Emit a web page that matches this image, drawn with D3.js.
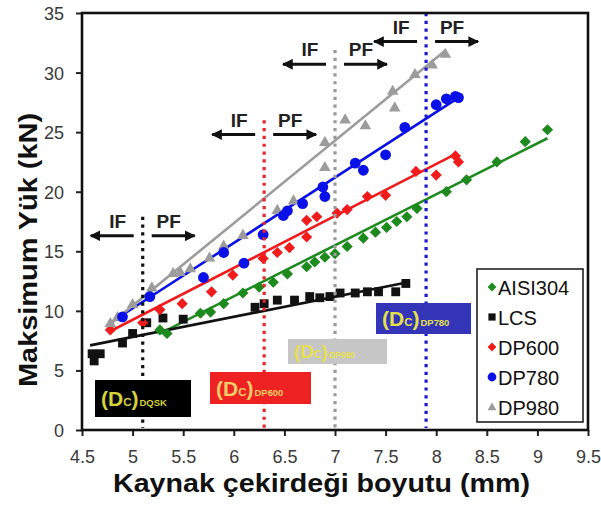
<!DOCTYPE html>
<html>
<head>
<meta charset="utf-8">
<script src="https://cdn.jsdelivr.net/npm/d3@7"></script>
<style>
  html, body { margin: 0; padding: 0; background: #fff; }
  svg { display: block; font-family: "Liberation Sans", Arial, sans-serif; }
</style>
</head>
<body>
<svg id="chart" width="601" height="509"></svg>
<script>
// Axis ticks
const xTicks = [4.5, 5, 5.5, 6, 6.5, 7, 7.5, 8, 8.5, 9, 9.5];
const xTickLabels = ["4.5", "5", "5.5", "6", "6.5", "7", "7.5", "8", "8.5", "9", "9.5"];
const yTicks = [0, 5, 10, 15, 20, 25, 30, 35];
const yTickLabels = ["0", "5", "10", "15", "20", "25", "30", "35"];

// Series: weld nugget size (mm) vs. maximum load (kN)
const seriesNames = ["AISI304", "LCS", "DP600", "DP780", "DP980"];

const aisiX = [5.27, 5.34, 5.67, 5.77, 5.9, 6.09, 6.25, 6.39, 6.53, 6.72, 6.8, 6.9, 7.0, 7.12, 7.28, 7.4, 7.51, 7.61, 7.71, 7.81, 8.1, 8.3, 8.6, 8.88, 9.1];
const aisiY = [8.4, 8.1, 9.8, 9.9, 10.6, 11.5, 12.0, 12.4, 13.1, 13.7, 14.1, 14.5, 14.8, 15.4, 16.1, 16.6, 17.0, 17.5, 17.9, 18.6, 20.0, 21.0, 22.5, 24.2, 25.2];

const lcsX = [4.6, 4.62, 4.68, 4.9, 5.0, 5.14, 5.3, 5.5, 6.21, 6.3, 6.43, 6.6, 6.75, 6.85, 6.95, 7.05, 7.2, 7.32, 7.43, 7.6, 7.7];
const lcsY = [6.4, 5.8, 6.4, 7.3, 8.1, 9.0, 9.4, 9.3, 10.3, 10.6, 10.9, 10.9, 11.2, 11.1, 11.2, 11.5, 11.5, 11.6, 11.6, 11.6, 12.3];

const dp600X = [4.78, 5.1, 5.27, 5.49, 5.78, 5.99, 6.29, 6.43, 6.55, 6.72, 6.72, 6.82, 7.02, 7.12, 7.32, 7.5, 7.8, 8.0, 8.19, 8.22];
const dp600Y = [8.4, 9.0, 10.1, 10.6, 11.6, 13.0, 14.4, 14.9, 15.3, 16.2, 17.6, 17.9, 18.2, 18.5, 19.6, 19.7, 21.7, 21.4, 23.0, 22.5];

const dp780X = [4.9, 5.17, 5.7, 5.9, 6.1, 6.29, 6.49, 6.53, 6.68, 6.88, 6.9, 7.2, 7.28, 7.5, 7.69, 8.0, 8.1, 8.19, 8.22];
const dp780Y = [9.5, 11.2, 12.8, 14.9, 14.0, 16.4, 18.0, 18.4, 19.0, 20.4, 19.6, 22.4, 21.8, 23.1, 25.4, 27.3, 27.8, 28.0, 27.9];

const dp980X = [4.78, 4.85, 5.0, 5.19, 5.4, 5.47, 5.57, 5.76, 5.9, 6.09, 6.43, 6.59, 6.9, 6.9, 7.1, 7.3, 7.59, 7.57, 7.79, 7.96, 8.09];
const dp980Y = [9.0, 9.5, 10.6, 12.0, 13.2, 13.3, 13.6, 14.5, 15.5, 16.4, 18.5, 19.3, 22.1, 24.2, 26.1, 25.6, 27.1, 28.5, 29.9, 30.7, 31.6];

// Linear trend lines (slope, intercept, x range), one per series
const fitSlope = [4.28, 1.688, 4.36, 5.49, 6.93];
const fitIntercept = [-14.46, -0.63, -12.55, -17.24, -24.22];
const fitFrom = [5.27, 4.58, 4.76, 4.78, 4.75];
const fitTo = [9.1, 7.72, 8.2, 8.24, 8.1];

// Critical nugget sizes (IF / PF transition)
const dcLabels = ["DQSK", "DP600", "DP980", "DP780"];
const dcSize = [5.1, 6.3, 7.0, 7.9];
const dcTop = [17.9, 26.0, 31.9, 35];
const dcArrowLevel = [16.3, 24.8, 30.7, 32.6];

const seriesX = [aisiX, lcsX, dp600X, dp780X, dp980X];
const seriesY = [aisiY, lcsY, dp600Y, dp780Y, dp980Y];
const seriesColor = ["#1c8a1c", "#111111", "#f01c1c", "#0a10e8", "#9c9c9c"];
const seriesShape = ["diamond", "square", "diamond", "circle", "triangle"];
const seriesSize = [5.6, 5.4, 5.6, 5.4, 5.8];

const dcColor = ["#111111", "#e8262a", "#9a9a9a", "#1a1ad0"];
const dcBoxFill = ["#000000", "#ee2222", "#c6c6c6", "#3434b8"];
const dcTextFill = ["#d6d23a", "#f6cc66", "#e6e050", "#e4e04a"];
const dcBox = [
  { x: 95, y: 380, w: 96, h: 37 },
  { x: 210, y: 372, w: 101, h: 32 },
  { x: 288, y: 339, w: 99, h: 25 },
  { x: 376, y: 303, w: 95, h: 31 }
];

const svg = d3.select("#chart");
const plot = { left: 82, right: 588, top: 13, bottom: 430 };

const x = d3.scaleLinear().domain([4.5, 9.5]).range([plot.left, plot.right]);
const y = d3.scaleLinear().domain([0, 35]).range([plot.bottom, plot.top]);

// Marker path generator
function markerPath(shape, r) {
  switch (shape) {
    case "diamond": return `M0,${-r}L${r},0L0,${r}L${-r},0Z`;
    case "square": { const s = r * 0.82; return `M${-s},${-s}H${s}V${s}H${-s}Z`; }
    case "circle": return `M${r},0A${r},${r} 0 1,1 ${-r},0A${r},${r} 0 1,1 ${r},0Z`;
    case "triangle": return `M0,${-r}L${r},${r * 0.75}L${-r},${r * 0.75}Z`;
  }
}

// Axes
const xAxis = d3.axisBottom(x).tickValues(xTicks)
  .tickFormat((d, i) => xTickLabels[i]).tickSize(6).tickPadding(14);
const yAxis = d3.axisLeft(y).tickValues(yTicks)
  .tickFormat((d, i) => yTickLabels[i]).tickSize(6).tickPadding(12);

const gx = svg.append("g").attr("transform", `translate(0,${plot.bottom})`).call(xAxis);
const gy = svg.append("g").attr("transform", `translate(${plot.left},0)`).call(yAxis);
[gx, gy].forEach(g => {
  g.select(".domain").remove();
  g.selectAll(".tick line").attr("stroke", "#222").attr("stroke-width", 2);
  g.selectAll(".tick text").attr("fill", "#3a3a3a").attr("font-size", 18)
    .attr("font-family", "'Liberation Sans', Arial, sans-serif");
});
gy.selectAll(".tick text").attr("dy", "0.36em");

// Data: trend lines then markers
const chartG = svg.append("g");
seriesNames.forEach((name, i) => {
  chartG.append("line")
    .attr("x1", x(fitFrom[i])).attr("y1", y(fitSlope[i] * fitFrom[i] + fitIntercept[i]))
    .attr("x2", x(fitTo[i])).attr("y2", y(fitSlope[i] * fitTo[i] + fitIntercept[i]))
    .attr("stroke", seriesColor[i]).attr("stroke-width", 2.6);
});
const drawOrder = [1, 0, 2, 4, 3];
drawOrder.forEach(i => {
  const pts = seriesX[i].map((v, k) => [v, seriesY[i][k]]);
  chartG.selectAll(null).data(pts).enter().append("path")
    .attr("transform", d => `translate(${x(d[0])},${y(d[1])})`)
    .attr("d", markerPath(seriesShape[i], seriesSize[i]))
    .attr("fill", seriesColor[i]);
});

// Critical-size dotted lines with IF / PF arrows
svg.append("defs").append("marker")
  .attr("id", "arrowHead").attr("viewBox", "0 0 10 10")
  .attr("refX", 9).attr("refY", 5)
  .attr("markerWidth", 3.6).attr("markerHeight", 3.6)
  .attr("markerUnits", "strokeWidth").attr("orient", "auto")
  .append("path").attr("d", "M0,0L10,5L0,10Z").attr("fill", "#111");

dcSize.forEach((d, i) => {
  const xp = x(d);
  svg.append("line")
    .attr("x1", xp).attr("x2", xp)
    .attr("y1", y(dcTop[i])).attr("y2", plot.bottom - 2)
    .attr("stroke", dcColor[i]).attr("stroke-width", 3.2)
    .attr("stroke-dasharray", "3.2,4.6");
  const ay = y(dcArrowLevel[i]);
  svg.append("line")
    .attr("x1", xp - 9).attr("x2", xp - 52).attr("y1", ay).attr("y2", ay)
    .attr("stroke", "#111").attr("stroke-width", 3).attr("marker-end", "url(#arrowHead)");
  svg.append("line")
    .attr("x1", xp + 9).attr("x2", xp + 52).attr("y1", ay).attr("y2", ay)
    .attr("stroke", "#111").attr("stroke-width", 3).attr("marker-end", "url(#arrowHead)");
  svg.append("text").attr("x", xp - 25).attr("y", ay - 8)
    .attr("text-anchor", "middle").attr("font-weight", "bold").attr("font-size", 19)
    .attr("fill", "#222").text("IF");
  svg.append("text").attr("x", xp + 26).attr("y", ay - 8)
    .attr("text-anchor", "middle").attr("font-weight", "bold").attr("font-size", 19)
    .attr("fill", "#222").text("PF");
});

// Critical-size labels: (Dc)material
dcLabels.forEach((lab, i) => {
  const b = dcBox[i];
  svg.append("rect").attr("x", b.x).attr("y", b.y).attr("width", b.w).attr("height", b.h)
    .attr("fill", dcBoxFill[i]);
  const big = b.h > 30 ? 21 : 19;
  const t = svg.append("text")
    .attr("x", b.x + 6).attr("y", b.y + b.h / 2 + big * 0.36)
    .attr("fill", dcTextFill[i]).attr("font-weight", "bold");
  t.append("tspan").attr("font-size", big).text("(D");
  t.append("tspan").attr("font-size", big * 0.55).text("C");
  t.append("tspan").attr("font-size", big).text(")");
  t.append("tspan").attr("font-size", big * 0.45).attr("dx", 1).text(lab);
});

// Plot frame
svg.append("rect")
  .attr("x", plot.left).attr("y", plot.top)
  .attr("width", plot.right - plot.left).attr("height", plot.bottom - plot.top)
  .attr("fill", "none").attr("stroke", "#111").attr("stroke-width", 2.6);

// Legend
const legend = svg.append("g");
legend.append("rect").attr("x", 477).attr("y", 269).attr("width", 106).attr("height", 153)
  .attr("fill", "#fff").attr("stroke", "#222").attr("stroke-width", 1.6);
seriesNames.forEach((name, i) => {
  const ly = 287 + i * 30;
  legend.append("path").attr("transform", `translate(492,${ly})`)
    .attr("d", markerPath(seriesShape[i], 4.4)).attr("fill", seriesColor[i]);
  legend.append("text").attr("x", 498).attr("y", ly + 7.5)
    .attr("font-size", 20).attr("fill", "#111").text(name);
});

// Axis titles
svg.append("text").attr("x", 113).attr("y", 492)
  .attr("font-weight", "bold").attr("font-size", 25).attr("fill", "#111")
  .attr("textLength", 417).attr("lengthAdjust", "spacingAndGlyphs")
  .text("Kaynak çekirdeği boyutu (mm)");
svg.append("text").attr("transform", "translate(37,387) rotate(-90)")
  .attr("font-weight", "bold").attr("font-size", 25).attr("fill", "#111")
  .attr("textLength", 274).attr("lengthAdjust", "spacingAndGlyphs")
  .text("Maksimum Yük (kN)");
</script>
</body>
</html>
